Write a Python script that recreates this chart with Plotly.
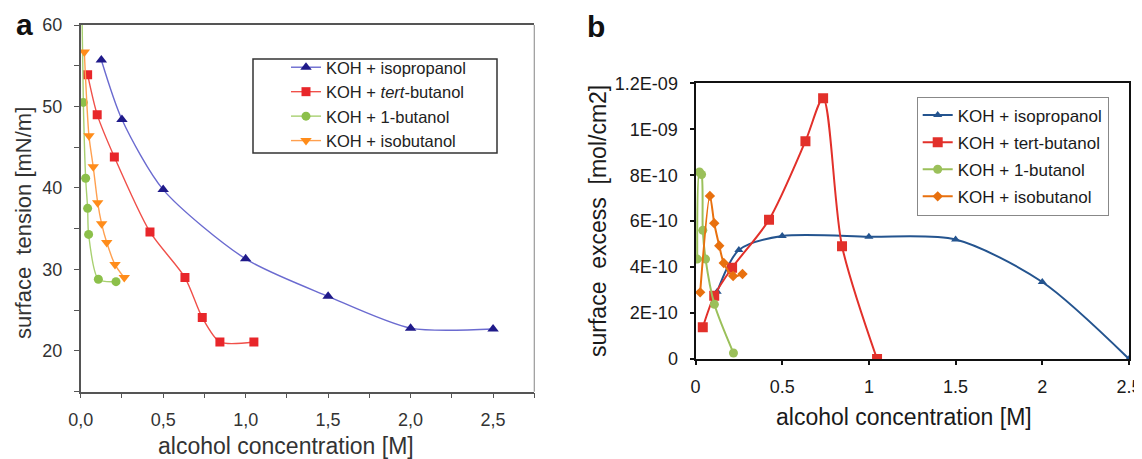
import plotly.graph_objects as go

# The page body has an 8 px margin, so the figure is drawn 8 px smaller and
# every window-pixel position below is shifted by that offset.
OFF = 8
W, H = 1142 - OFF, 459 - OFF
FONT = "Liberation Sans, Arial, Helvetica, sans-serif"

# ---------------- Panel a: surface tension ----------------
a_names = ["KOH + isopropanol", "KOH + <i>tert</i>-butanol", "KOH + 1-butanol", "KOH + isobutanol"]
a_iso_x = [0.125, 0.25, 0.5, 1.0, 1.5, 2.0, 2.5]
a_iso_y = [55.7, 48.4, 39.8, 31.3, 26.7, 22.8, 22.7]
a_tert_x = [0.042, 0.10, 0.204, 0.42, 0.632, 0.737, 0.844, 1.05]
a_tert_y = [53.9, 49.0, 43.8, 34.6, 29.0, 24.1, 21.1, 21.1]
a_but_x = [0.0, 0.016, 0.030, 0.042, 0.048, 0.107, 0.214]
a_but_y = [72.0, 50.5, 41.2, 37.5, 34.3, 28.8, 28.5]
a_isob_x = [0.022, 0.05, 0.076, 0.103, 0.127, 0.158, 0.208, 0.264]
a_isob_y = [56.7, 46.4, 42.6, 38.2, 35.6, 33.3, 30.6, 29.0]
a_xticks = [0.0, 0.5, 1.0, 1.5, 2.0, 2.5]
a_xticktext = ["0,0", "0,5", "1,0", "1,5", "2,0", "2,5"]
a_yticks = [20, 30, 40, 50, 60]

# ---------------- Panel b: surface excess ----------------
b_names = ["KOH + isopropanol", "KOH + tert-butanol", "KOH + 1-butanol", "KOH + isobutanol"]
b_iso_x = [0.125, 0.25, 0.5, 1.0, 1.5, 2.0, 2.5]
b_iso_y = [2.93e-10, 4.74e-10, 5.35e-10, 5.32e-10, 5.20e-10, 3.35e-10, 0.0]
b_tert_x = [0.042, 0.108, 0.211, 0.424, 0.634, 0.736, 0.845, 1.047]
b_tert_y = [1.38e-10, 2.75e-10, 3.97e-10, 6.06e-10, 9.48e-10, 11.35e-10, 4.91e-10, 0.0]
b_but_x = [0.01, 0.023, 0.035, 0.042, 0.058, 0.109, 0.219]
b_but_y = [4.35e-10, 8.14e-10, 8.03e-10, 5.6e-10, 4.35e-10, 2.38e-10, 0.26e-10]
b_isob_x = [0.027, 0.083, 0.108, 0.137, 0.163, 0.217, 0.271]
b_isob_y = [2.9e-10, 7.1e-10, 5.91e-10, 4.93e-10, 4.18e-10, 3.61e-10, 3.7e-10]
b_xticks = [0, 0.5, 1, 1.5, 2, 2.5]
b_xticktext = ["0", "0.5", "1", "1.5", "2", "2.5"]
b_yticks = [0, 2e-10, 4e-10, 6e-10, 8e-10, 1e-9, 1.2e-9]
b_yticktext = ["0", "2E-10", "4E-10", "6E-10", "8E-10", "1E-09", "1.2E-09"]


def px(x):
    return (x - OFF) / W


def py(y):
    return 1 - (y - OFF) / H


fig = go.Figure()

a_series = [
    (a_iso_x, a_iso_y, "#6b6bd0", "#1f1a8a", "triangle-up", 10),
    (a_tert_x, a_tert_y, "#f0504a", "#e8262a", "square", 9),
    (a_but_x, a_but_y, "#a8d070", "#8cc04a", "circle", 9),
    (a_isob_x, a_isob_y, "#ffa050", "#ff8c1a", "triangle-down", 10),
]
for name, (xs, ys, lc, mc, sym, sz) in zip(a_names, a_series):
    fig.add_trace(go.Scatter(
        x=xs, y=ys, name=name, mode="lines+markers",
        line=dict(color=lc, width=1.4, shape="spline", smoothing=0.75),
        marker=dict(color=mc, symbol=sym, size=sz, line=dict(width=0)),
        xaxis="x", yaxis="y", legend="legend",
    ))

b_series = [
    (b_iso_x, b_iso_y, "#24548f", "triangle-up", 8),
    (b_tert_x, b_tert_y, "#e2302a", "square", 10),
    (b_but_x, b_but_y, "#9bc05a", "circle", 9),
    (b_isob_x, b_isob_y, "#e8700e", "diamond", 8),
]
for i, (name, (xs, ys, c, sym, sz)) in enumerate(zip(b_names, b_series)):
    fig.add_trace(go.Scatter(
        x=xs, y=ys, name=name, mode="lines+markers",
        line=dict(color=c, width=2, shape="spline", smoothing=0.8),
        marker=dict(color=c, symbol=sym, size=sz, line=dict(width=0)),
        xaxis="x2", yaxis="y2", legend="legend2", legendgroup="g%d" % i,
    ))

tick_a = dict(family=FONT, size=18, color="#333333")
tick_b = dict(family=FONT, size=18, color="#1a1a1a")

fig.update_layout(
    width=W, height=H,
    margin=dict(l=0, r=0, t=0, b=0, autoexpand=False),
    paper_bgcolor="white", plot_bgcolor="white",
    font=dict(family=FONT),
    xaxis=dict(
        domain=[px(80.7), px(534.3)], range=[0, 2.75], anchor="y",
        tickvals=a_xticks, ticktext=a_xticktext, tickfont=tick_a,
        ticks="outside", ticklen=5, tickcolor="#555", tickwidth=1.2,
        minor=dict(dtick=0.25, tick0=0, ticks="outside", ticklen=5, tickcolor="#555"),
        showline=True, linecolor="#555", linewidth=1.5, mirror=True,
        showgrid=False, zeroline=False, ticklabelstandoff=6, automargin=False,
    ),
    yaxis=dict(
        domain=[py(391.7), py(25)], range=[15, 60], anchor="x",
        tickvals=a_yticks, tickfont=tick_a,
        ticks="outside", ticklen=5, tickcolor="#555", tickwidth=1.2,
        minor=dict(dtick=5, tick0=0, ticks="outside", ticklen=5, tickcolor="#555"),
        showline=True, linecolor="#555", linewidth=1.5, mirror=False,
        showgrid=False, zeroline=False, ticklabelstandoff=8, automargin=False,
    ),
    xaxis2=dict(
        domain=[px(695.5), px(1129)], range=[0, 2.5], anchor="y2",
        tickvals=b_xticks, ticktext=b_xticktext, tickfont=tick_b,
        ticks="outside", ticklen=4, tickcolor="#111", tickwidth=1.5,
        showline=True, linecolor="#111", linewidth=2, mirror=True,
        showgrid=False, zeroline=False, ticklabelstandoff=6, automargin=False,
    ),
    yaxis2=dict(
        domain=[py(359), py(83.3)], range=[0, 1.2e-9], anchor="x2",
        tickvals=b_yticks, ticktext=b_yticktext, tickfont=tick_b,
        ticks="outside", ticklen=4, tickcolor="#111", tickwidth=1.5,
        showline=True, linecolor="#111", linewidth=2, mirror=True,
        showgrid=False, zeroline=False, ticklabelstandoff=8, automargin=False,
    ),
    legend=dict(
        x=px(286), y=py(50), xanchor="left", yanchor="top",
        bgcolor="rgba(0,0,0,0)", borderwidth=0,
        font=dict(family=FONT, size=16.5, color="#222"),
        itemwidth=30, tracegroupgap=0,
    ),
    legend2=dict(
        x=px(916.7), y=py(96.5), xanchor="left", yanchor="top",
        bgcolor="white", bordercolor="#888", borderwidth=1,
        font=dict(family=FONT, size=17, color="#1a1a1a"),
        itemwidth=30, traceorder="grouped", tracegroupgap=2,
    ),
    showlegend=True,
)

# right border of panel a (lighter) and legend frame of panel a
fig.add_shape(type="line", xref="paper", yref="paper",
              x0=px(534.3), x1=px(534.3), y0=py(391.7), y1=py(25),
              line=dict(color="#999", width=1.2))
fig.add_shape(type="rect", xref="paper", yref="paper",
              x0=px(253), x1=px(497), y0=py(153), y1=py(59),
              line=dict(color="#333", width=1.5))

ann = [
    dict(text="<b>a</b>", x=px(14), y=py(24), xanchor="left", yanchor="middle",
         font=dict(size=30, color="#111")),
    dict(text="<b>b</b>", x=px(585), y=py(26), xanchor="left", yanchor="middle",
         font=dict(size=30, color="#111")),
    dict(text="alcohol concentration [M]", x=px(286), y=py(446), xanchor="center", yanchor="middle",
         font=dict(size=23, color="#333")),
    dict(text="surface  tension [mN/m]", x=px(23), y=py(223), xanchor="center", yanchor="middle",
         textangle=-90, font=dict(size=22, color="#333")),
    dict(text="alcohol concentration [M]", x=px(904), y=py(417), xanchor="center", yanchor="middle",
         font=dict(size=23, color="#1a1a1a")),
    dict(text="surface  excess  [mol/cm2]", x=px(598), y=py(221), xanchor="center", yanchor="middle",
         textangle=-90, font=dict(size=23, color="#1a1a1a")),
]
for a in ann:
    a.update(xref="paper", yref="paper", showarrow=False)
    a["font"]["family"] = FONT
    fig.add_annotation(**a)

fig.write_html("out.html")
